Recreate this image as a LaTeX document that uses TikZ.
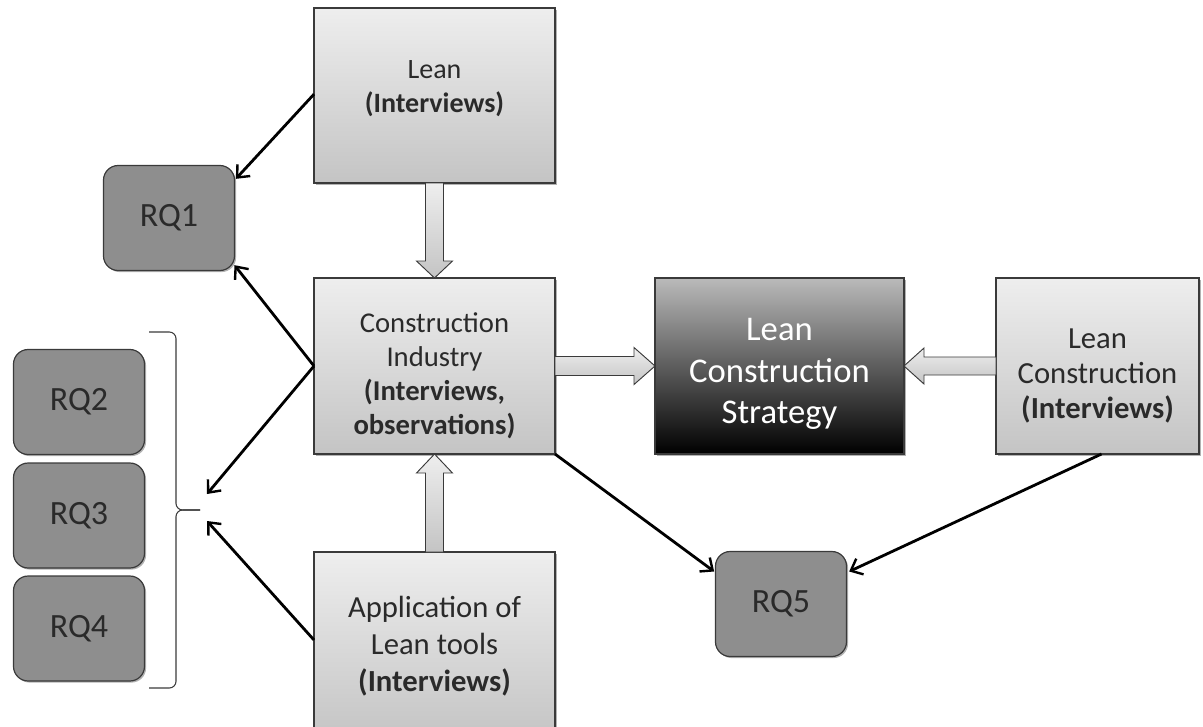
\documentclass[tikz,border=0pt]{standalone}
\usepackage{fontspec}
\setmainfont{Carlito}
\usetikzlibrary{arrows.meta,calc,shadows}
\definecolor{boxtop}{HTML}{EEEEEE}
\definecolor{boxbot}{HTML}{C4C4C4}
\definecolor{strattop}{HTML}{BABABA}
\definecolor{rqfill}{HTML}{8E8E8E}
\definecolor{edge}{HTML}{3A3A3A}
\definecolor{txt}{HTML}{2A2A2A}
\begin{document}
\begin{tikzpicture}[x=0.75pt,y=-0.75pt,
  softshadow/.style={drop shadow={shadow xshift=1.2pt,shadow yshift=-1.2pt,opacity=0.3,fill=black}},
  box/.style={draw=edge,line width=0.9pt,top color=boxtop,bottom color=boxbot,
    inner sep=0pt,outer sep=0pt,softshadow},
  boxtext/.style={align=center,text=txt,inner sep=0pt},
  stratbox/.style={box,top color=strattop,bottom color=black},
  rq/.style={draw=edge,line width=0.9pt,fill=rqfill,rounded corners=11pt,
    minimum width=98.25pt,minimum height=78.75pt,inner sep=0pt,outer sep=0pt,
    text=txt,font=\fontsize{25.5}{30}\selectfont,softshadow},
  link/.style={line width=2.1pt,black,-{Straight Barb[length=7.5pt,width=13pt,line width=1.8pt]}},
  fat/.style={draw=edge,line width=0.7pt,top color=boxtop,bottom color=boxbot},
  brace/.style={draw=edge,line width=0.8pt,rounded corners=5pt}
]
\useasboundingbox (0,0) rectangle (1203,726);
\clip (0,0) rectangle (1203,726);

% source boxes, each with its caption set as a centred label
\node[box,minimum width=180.75pt,minimum height=131.25pt,
  label={[boxtext,name=lean-text,yshift=5.25pt,font=\fontsize{21}{25}\selectfont]center:{Lean\\\textbf{(Interviews)}}}]
  (lean) at (434.5,95.5) {};
\node[box,minimum width=180.75pt,minimum height=132pt,
  label={[boxtext,name=ci-text,yshift=-7.5pt,font=\fontsize{21.5}{25.5}\selectfont]center:{Construction\\Industry\\\textbf{(Interviews,}\\\textbf{observations)}}}]
  (ci) at (434.5,366) {};
\node[box,minimum width=180.75pt,minimum height=141pt,
  label={[boxtext,name=app-text,font=\fontsize{23}{28}\selectfont]center:{Application of\\Lean tools\\\textbf{(Interviews)}}}]
  (app) at (434.5,646) {};
\node[stratbox,minimum width=186.75pt,minimum height=132pt,
  label={[boxtext,name=strat-text,text=white,yshift=-6pt,font=\fontsize{26}{31}\selectfont]center:{Lean\\Construction\\Strategy}}]
  (strat) at (779.5,366) {};
\node[box,minimum width=152.25pt,minimum height=132pt,
  label={[boxtext,name=lc-text,yshift=-7.5pt,font=\fontsize{23}{26.5}\selectfont]center:{Lean\\Construction\\\textbf{(Interviews)}}}]
  (lc) at (1097.5,366) {};

% research questions
\node[rq] (rq1) at (169,218) {RQ1};
\node[rq] (rq2) at (79,402) {RQ2};
\node[rq] (rq3) at (79,515.5) {RQ3};
\node[rq] (rq4) at (79,628.5) {RQ4};
\node[rq] (rq5) at (781,604) {RQ5};

% brace grouping RQ2--RQ4
\coordinate (bt) at (200,510);
\draw[brace] (149,332) -- (176,332) -- (176,510) -- (bt);
\draw[brace] (bt) -- (176,510) -- (176,688) -- (149,688);
\coordinate (bin1) at (207,494);
\coordinate (bin2) at (207,521);

% block arrows
\path[fat] ($(lean.south)+(-9,0)$) -- ($(ci.north)+(-9,-17)$) -- ($(ci.north)+(-18,-17)$)
  -- (ci.north) -- ($(ci.north)+(18,-17)$) -- ($(ci.north)+(9,-17)$)
  -- ($(lean.south)+(9,0)$) -- cycle;
\path[fat] ($(app.north)+(-9,0)$) -- ($(ci.south)+(-9,19)$) -- ($(ci.south)+(-18,19)$)
  -- (ci.south) -- ($(ci.south)+(18,19)$) -- ($(ci.south)+(9,19)$)
  -- ($(app.north)+(9,0)$) -- cycle;
\path[fat] ($(ci.east)+(0,-9.5)$) -- ($(strat.west)+(-21,-9.5)$) -- ($(strat.west)+(-21,-18.5)$)
  -- (strat.west) -- ($(strat.west)+(-21,18.5)$) -- ($(strat.west)+(-21,9.5)$)
  -- ($(ci.east)+(0,9.5)$) -- cycle;
\path[fat] ($(lc.west)+(0,-9)$) -- ($(strat.east)+(20,-9)$) -- ($(strat.east)+(20,-18)$)
  -- (strat.east) -- ($(strat.east)+(20,18)$) -- ($(strat.east)+(20,9)$)
  -- ($(lc.west)+(0,9)$) -- cycle;

% links to research questions
\draw[link] ([yshift=1pt]lean.west) -- ([xshift=1pt,yshift=-10pt]rq1.north east);
\draw[link] (ci.west) -- ([yshift=4pt]rq1.south east);
\draw[link] (ci.west) -- (bin1);
\draw[link] ([yshift=4.5pt]app.west) -- (bin2);
\draw[link] (ci.south east) -- ([xshift=-1pt,yshift=-15pt]rq5.north west);
\draw[link] ([xshift=3pt]lc.south) -- ([xshift=2pt,yshift=-15pt]rq5.north east);
\end{tikzpicture}
\end{document}
